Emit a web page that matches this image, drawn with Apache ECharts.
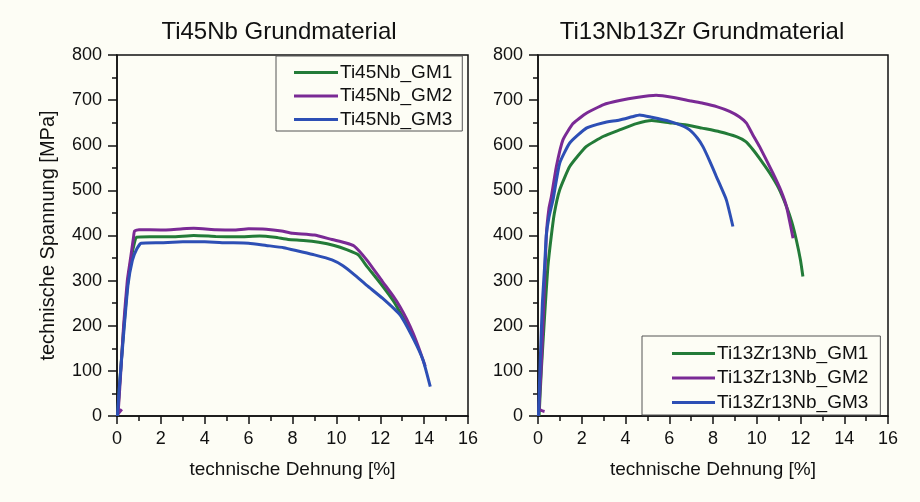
<!DOCTYPE html>
<html>
<head>
<meta charset="utf-8">
<script src="https://cdn.jsdelivr.net/npm/echarts@6/dist/echarts.min.js"></script>
<style>
html,body{margin:0;padding:0;background:#fdfdf5;}
#chart{width:920px;height:502px;}
</style>
</head>
<body>
<div id="chart"></div>
<script>
// ---- Data (strain % , stress MPa) ----
const titles = ['Ti45Nb Grundmaterial', 'Ti13Nb13Zr Grundmaterial'];
const xAxisName = 'technische Dehnung [%]';
const yAxisName = 'technische Spannung [MPa]';

const leftNames = ['Ti45Nb_GM1', 'Ti45Nb_GM2', 'Ti45Nb_GM3'];
const rightNames = ['Ti13Zr13Nb_GM1', 'Ti13Zr13Nb_GM2', 'Ti13Zr13Nb_GM3'];

const ti45_GM1 = [[0.03,0],[0.12,70],[0.3,190],[0.48,290],[0.65,350],[0.8,385],[0.9,396],[1.5,397],[2.5,397],[3.5,400],[4.5,398],[5.5,397],[6.5,399],[7.2,396],[7.8,391],[8.5,389],[9.2,385],[9.9,378],[10.5,368],[11,357],[11.4,331],[11.8,307],[12.2,282],[12.6,255],[12.9,230],[13.2,205],[13.45,182]];
const ti45_GM2 = [[0.22,15],[0.05,5],[0.15,80],[0.3,200],[0.47,300],[0.62,350],[0.75,395],[0.8,410],[1.0,413],[2,412],[3,415],[3.5,416],[4.5,413],[5.3,412],[6,415],[6.8,414],[7.5,410],[8,405],[9,401],[9.8,391],[10.4,384],[10.8,377],[11.4,345],[12.1,298],[12.6,265],[12.9,242],[13.2,215],[13.5,183],[13.8,145],[14.05,110]];
const ti45_GM3 = [[0.02,0],[0.1,60],[0.3,180],[0.5,290],[0.7,345],[0.9,370],[1.1,383],[2,384],[3,386],[4,386],[5,384],[6,383],[6.8,378],[7.6,373],[8.3,365],[9,357],[9.8,346],[10.3,333],[10.8,314],[11.4,289],[12.1,261],[12.9,224],[13.5,172],[13.95,124],[14.28,65]];

const ti13_GM1 = [[0.05,0],[0.15,100],[0.3,220],[0.45,330],[0.61,400],[0.75,450],[0.99,501],[1.45,553],[2.2,597],[3,620],[3.73,634],[4.5,648],[5.2,655],[6,650],[6.8,645],[7.5,638],[8.3,630],[9.07,619],[9.5,608],[9.83,590],[10.2,566],[10.6,538],[11,505],[11.36,464],[11.6,430],[11.81,390],[12,345],[12.11,309]];
const ti13_GM2 = [[0.3,10],[0.05,15],[0.15,110],[0.25,230],[0.38,400],[0.5,460],[0.61,486],[0.84,553],[1.14,612],[1.6,648],[2.21,671],[3,690],[3.73,699],[4.5,706],[5.4,711],[6.2,706],[7,698],[7.54,693],[8.2,685],[8.76,675],[9.2,663],[9.53,649],[9.8,625],[10.13,597],[10.74,538],[11.1,500],[11.36,464],[11.66,394]];
const ti13_GM3 = [[0.02,0],[0.1,120],[0.2,250],[0.3,330],[0.38,400],[0.5,440],[0.69,480],[0.99,560],[1.45,605],[2.21,638],[3,650],[3.73,656],[4.3,663],[4.65,667],[5.2,662],[6.02,653],[6.5,645],[6.93,634],[7.3,615],[7.54,597],[7.85,565],[8.15,531],[8.61,479],[8.91,420]];

const colors = ['#237b38', '#7a2a95', '#2d4fb5'];
const xTicks = { min: 0, max: 16, interval: 2 };
const yTicks = { min: 0, max: 800, interval: 100 };

// ---- Chart ----
const FONT = "'Liberation Sans', Arial, sans-serif";
const chart = echarts.init(document.getElementById('chart'), null, { renderer: 'canvas' });

function xAx(idx) {
  return {
    type: 'value', gridIndex: idx, min: xTicks.min, max: xTicks.max, interval: xTicks.interval,
    name: xAxisName, nameLocation: 'middle', nameGap: 44,
    nameTextStyle: { fontSize: 19, color: '#111', fontFamily: FONT },
    axisLine: { show: true, onZero: false, lineStyle: { color: '#111', width: 1.5 } },
    axisTick: { show: true, inside: false, length: 8, lineStyle: { color: '#111', width: 1.5 } },
    minorTick: { show: true, splitNumber: 2, length: 5, lineStyle: { color: '#111', width: 1.5 } },
    axisLabel: { fontSize: 18, color: '#111', fontFamily: FONT, margin: 14 },
    splitLine: { show: false }
  };
}
function yAx(idx, showName) {
  return {
    type: 'value', gridIndex: idx, min: yTicks.min, max: yTicks.max, interval: yTicks.interval,
    name: showName ? yAxisName : '', nameLocation: 'middle', nameGap: 59,
    nameTextStyle: { fontSize: 20, color: '#111', fontFamily: FONT },
    axisLine: { show: true, onZero: false, lineStyle: { color: '#111', width: 1.5 } },
    axisTick: { show: true, inside: false, length: 9, lineStyle: { color: '#111', width: 1.5 } },
    minorTick: { show: true, splitNumber: 2, length: 5, lineStyle: { color: '#111', width: 1.5 } },
    axisLabel: { fontSize: 18, color: '#111', fontFamily: FONT, margin: 15 },
    splitLine: { show: false }
  };
}
function ser(name, data, ci, idx) {
  return {
    type: 'line', name: name, data: data, xAxisIndex: idx, yAxisIndex: idx,
    symbol: 'none', smooth: 0.15, animation: false,
    lineStyle: { color: colors[ci], width: 3 },
    itemStyle: { color: colors[ci] }
  };
}

const option = {
  backgroundColor: '#fdfdf5',
  animation: false,
  title: [
    { text: titles[0], left: 279, top: 20, textAlign: 'center', padding: 0,
      textStyle: { fontSize: 24, fontWeight: 'normal', color: '#111', fontFamily: FONT } },
    { text: titles[1], left: 702, top: 20, textAlign: 'center', padding: 0,
      textStyle: { fontSize: 24, fontWeight: 'normal', color: '#111', fontFamily: FONT } }
  ],
  grid: [
    { left: 117, right: 452, top: 55, bottom: 86, show: true, borderColor: '#111', borderWidth: 1.5 },
    { left: 538, right: 32, top: 55, bottom: 86, show: true, borderColor: '#111', borderWidth: 1.5 }
  ],
  xAxis: [xAx(0), xAx(1)],
  yAxis: [yAx(0, true), yAx(1, false)],
  legend: [
    { data: leftNames, orient: 'vertical', left: 276, top: 56, icon: 'rect',
      padding: [7, 10, 2, 18], itemGap: 4.5, itemWidth: 44, itemHeight: 3,
      borderColor: '#555', borderWidth: 1, backgroundColor: '#fdfdf5',
      textStyle: { fontSize: 19, color: '#111', fontFamily: FONT, lineHeight: 19, padding: [0,0,0,-3] } },
    { data: rightNames, orient: 'vertical', left: 642, top: 336, icon: 'rect',
      padding: [8, 12, 3, 30], itemGap: 5.5, itemWidth: 43, itemHeight: 3,
      borderColor: '#555', borderWidth: 1, backgroundColor: '#fdfdf5',
      textStyle: { fontSize: 19, color: '#111', fontFamily: FONT, lineHeight: 19, padding: [0,0,0,-3] } }
  ],
  series: [
    ser(leftNames[0], ti45_GM1, 0, 0),
    ser(leftNames[1], ti45_GM2, 1, 0),
    ser(leftNames[2], ti45_GM3, 2, 0),
    ser(rightNames[0], ti13_GM1, 0, 1),
    ser(rightNames[1], ti13_GM2, 1, 1),
    ser(rightNames[2], ti13_GM3, 2, 1)
  ]
};
chart.setOption(option);
</script>
</body>
</html>
